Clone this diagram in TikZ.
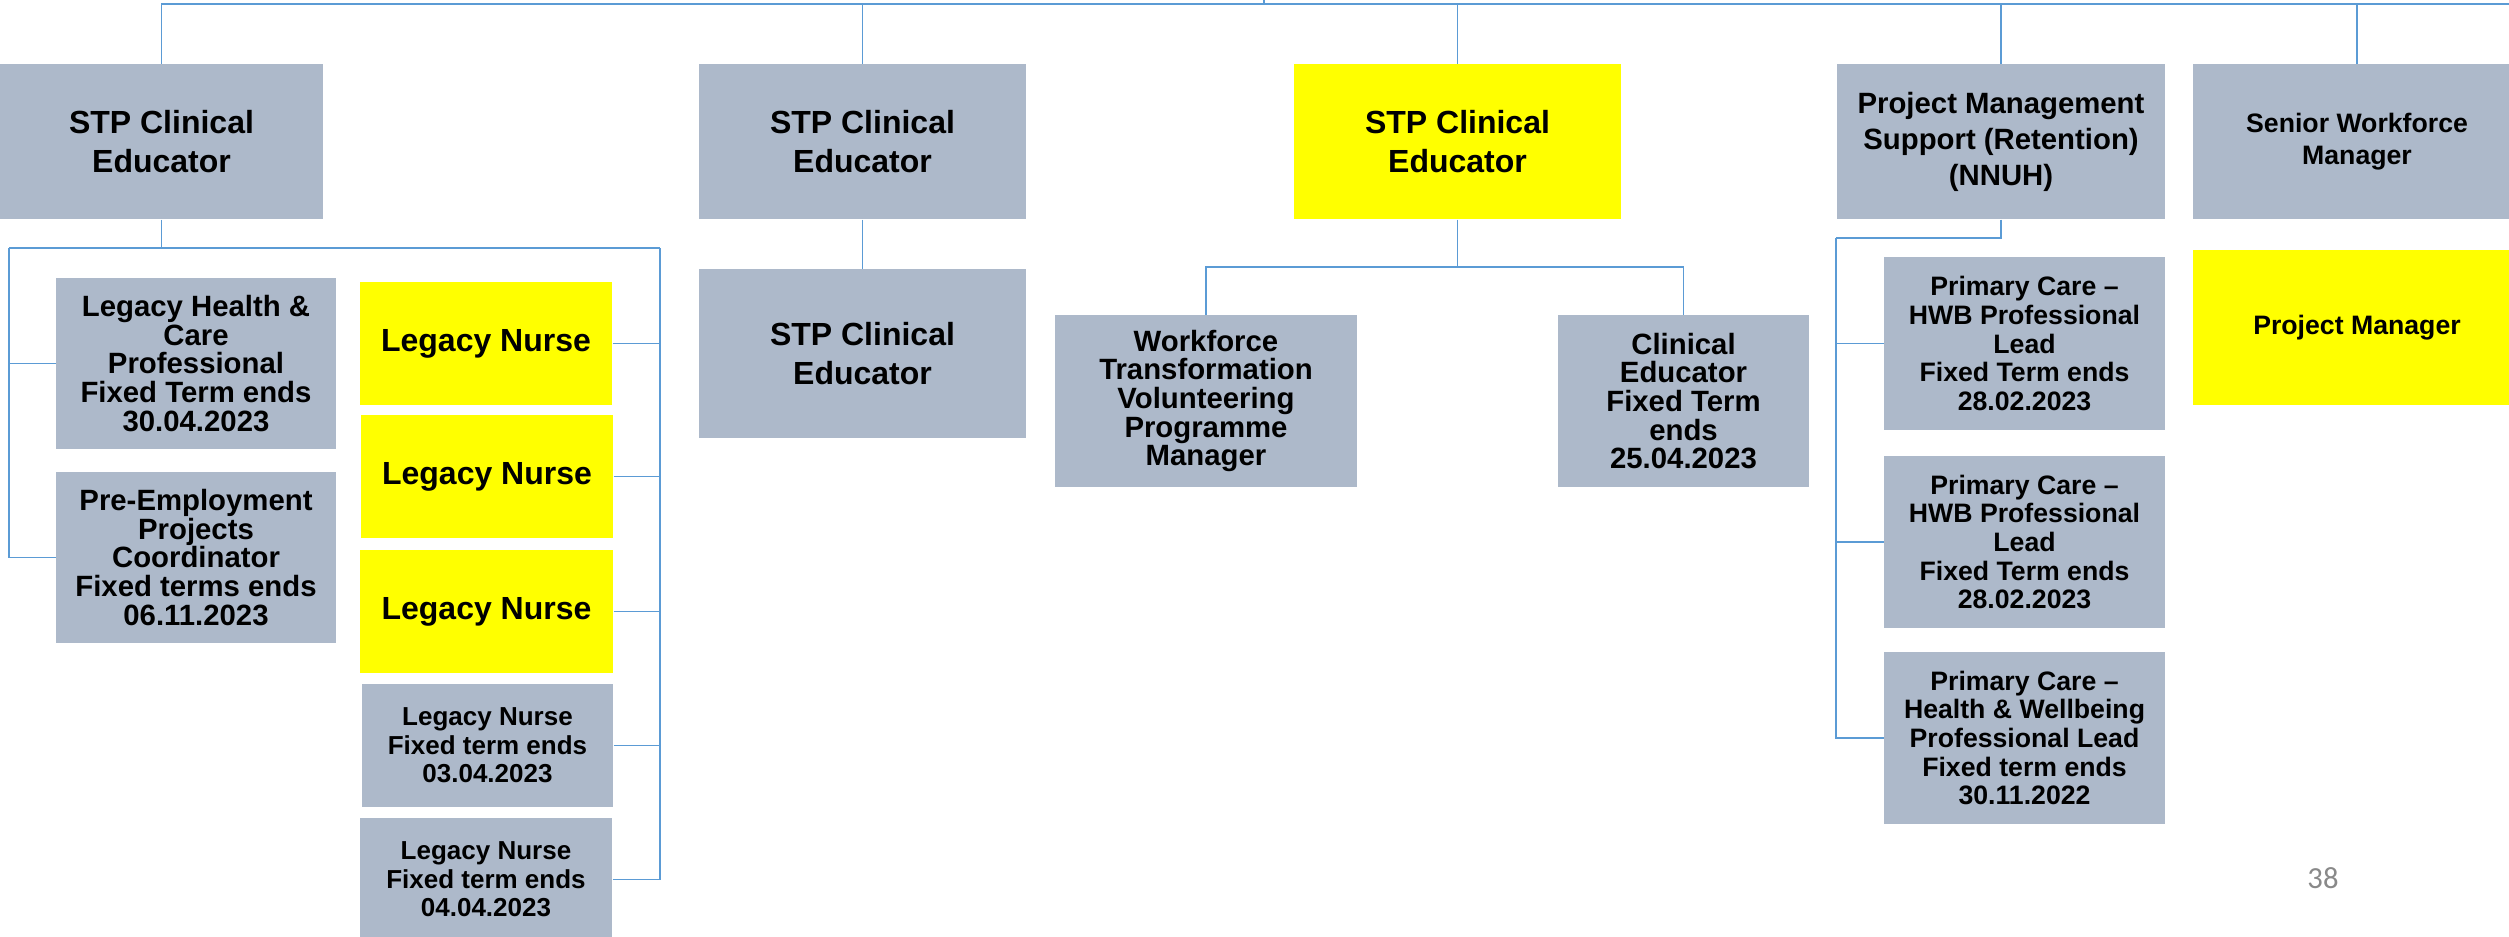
\documentclass[tikz,border=0pt]{standalone}
\usepackage{fontspec}
\setmainfont{Liberation Sans}
\newfontfamily\pagefont{Carlito}

\definecolor{boxgrey}{RGB}{173,185,202}
\definecolor{boxyellow}{RGB}{255,255,0}
\definecolor{linkblue}{RGB}{91,155,213}
\definecolor{pagegrey}{RGB}{137,137,137}

\tikzset{every picture/.style={line width=0.75pt},
  post/.style={inner sep=0pt, align=center, text=black},
  greypost/.style={post, fill=boxgrey},
  yellowpost/.style={post, fill=boxyellow},
  dims/.style 2 args={minimum width=#1*0.75pt, minimum height=#2*0.75pt},
  fbig/.style={font=\bfseries\fontsize{24}{29}\selectfont},
  fmid/.style={font=\bfseries\fontsize{22}{21.5}\selectfont},
  fpms/.style={font=\bfseries\fontsize{22}{27}\selectfont},
  fsmall/.style={font=\bfseries\fontsize{20}{24}\selectfont},
  fpc/.style={font=\bfseries\fontsize{20}{21.5}\selectfont},
  fnurse/.style={font=\bfseries\fontsize{19.5}{21.5}\selectfont},
  link/.style={draw=linkblue, line width=1.1pt}
}

\begin{document}
\begin{tikzpicture}[x=0.75pt,y=0.75pt,yscale=-1,xscale=1]
		\useasboundingbox (0,0) rectangle (2509,936);
		\clip (0,0) rectangle (2509,936);

		%Top row
		\node[greypost, fbig, dims={323}{155}] (stpA) at (161.5,141.5) {STP Clinical\\Educator};
		\node[greypost, fbig, dims={327}{155}] (stpB) at (862.5,141.5) {STP Clinical\\Educator};
		\node[yellowpost, fbig, dims={327}{155}] (stpC) at (1457.5,141.5) {STP Clinical\\Educator};
		\node[greypost, fpms, dims={328}{155}] (pms) at (2001,141.5) {Project Management\\Support (Retention)\\(NNUH)};
		\node[greypost, fsmall, dims={328}{155}] (swm) at (2357,141.5) {Senior Workforce\\Manager};

		%Under first educator
		\node[greypost, fmid, dims={280}{171}] (lhcp) at (196,363.5) {Legacy Health \&\\Care\\Professional\\Fixed Term ends\\30.04.2023};
		\node[greypost, fmid, dims={280}{171}] (pepc) at (196,557.5) {Pre-Employment\\Projects\\Coordinator\\Fixed terms ends\\06.11.2023};
		\node[yellowpost, fbig, dims={252}{123}] (nurseA) at (486,343.5) {Legacy Nurse};
		\node[yellowpost, fbig, dims={252}{123}] (nurseB) at (487,476.5) {Legacy Nurse};
		\node[yellowpost, fbig, dims={253}{123}] (nurseC) at (486.5,611.5) {Legacy Nurse};
		\node[greypost, fnurse, dims={251}{123}] (nurseD) at (487.5,745.5) {Legacy Nurse\\Fixed term ends\\03.04.2023};
		\node[greypost, fnurse, dims={252}{123}] (nurseE) at (486,879.5) {Legacy Nurse\\Fixed term ends\\04.04.2023};

		%Under second and third educator
		\node[greypost, fbig, dims={327}{169}] (stpD) at (862.5,353.5) {STP Clinical\\Educator};
		\node[greypost, fmid, dims={302}{172}] (wtvpm) at (1206,401) {Workforce\\Transformation\\Volunteering\\Programme\\Manager};
		\node[greypost, fmid, dims={251}{172}] (cefte) at (1683.5,401) {Clinical\\Educator\\Fixed Term\\ends\\25.04.2023};

		%Under project management support
		\node[greypost, fpc, dims={281}{173}] (pcA) at (2024.5,343.5) {Primary Care –\\HWB Professional\\Lead\\Fixed Term ends\\28.02.2023};
		\node[greypost, fpc, dims={281}{172}] (pcB) at (2024.5,542) {Primary Care –\\HWB Professional\\Lead\\Fixed Term ends\\28.02.2023};
		\node[greypost, fpc, dims={281}{172}] (pcC) at (2024.5,738) {Primary Care –\\Health \& Wellbeing\\Professional Lead\\Fixed term ends\\30.11.2022};
		\node[yellowpost, fsmall, dims={328}{155}] (pm) at (2357,327.5) {Project Manager};

		% Text Node
		\node[font=\pagefont\fontsize{23}{27}\selectfont, text=pagegrey] (pgno) at (2323,878) {38};

		%Connectors
		\coordinate (upline) at (1264,0);
		\coordinate (barR) at (2509,4);
		\draw[link] (stpA.north) |- (barR);
		\draw[link] (upline) -- (upline |- barR);
		\foreach \n in {stpB,stpC,pms,swm}
			\draw[link] (\n.north) -- (\n.north |- barR);

		\coordinate (legL) at (9,248);
		\coordinate (legR) at (660,248);
		\draw[link] (stpA.south) -- (stpA.south |- legL);
		\draw[link] (legL) -- (legR);
		\foreach \n in {lhcp,pepc}
			\draw[link] (\n.west) -| (legL);
		\foreach \n in {nurseA,nurseB,nurseC,nurseD,nurseE}
			\draw[link] (\n.east) -| (legR);

		\draw[link] (stpB.south) -- (stpD.north);

		\coordinate (busC) at (1457.5,267);
		\draw[link] (stpC.south) -- (busC);
		\foreach \n in {wtvpm,cefte}
			\draw[link] (\n.north) |- (busC);

		\coordinate (busP) at (1836,238);
		\draw[link] (pms.south) |- (busP);
		\foreach \n in {pcA,pcB,pcC}
			\draw[link] (\n.west) -| (busP);

\end{tikzpicture}
\end{document}
